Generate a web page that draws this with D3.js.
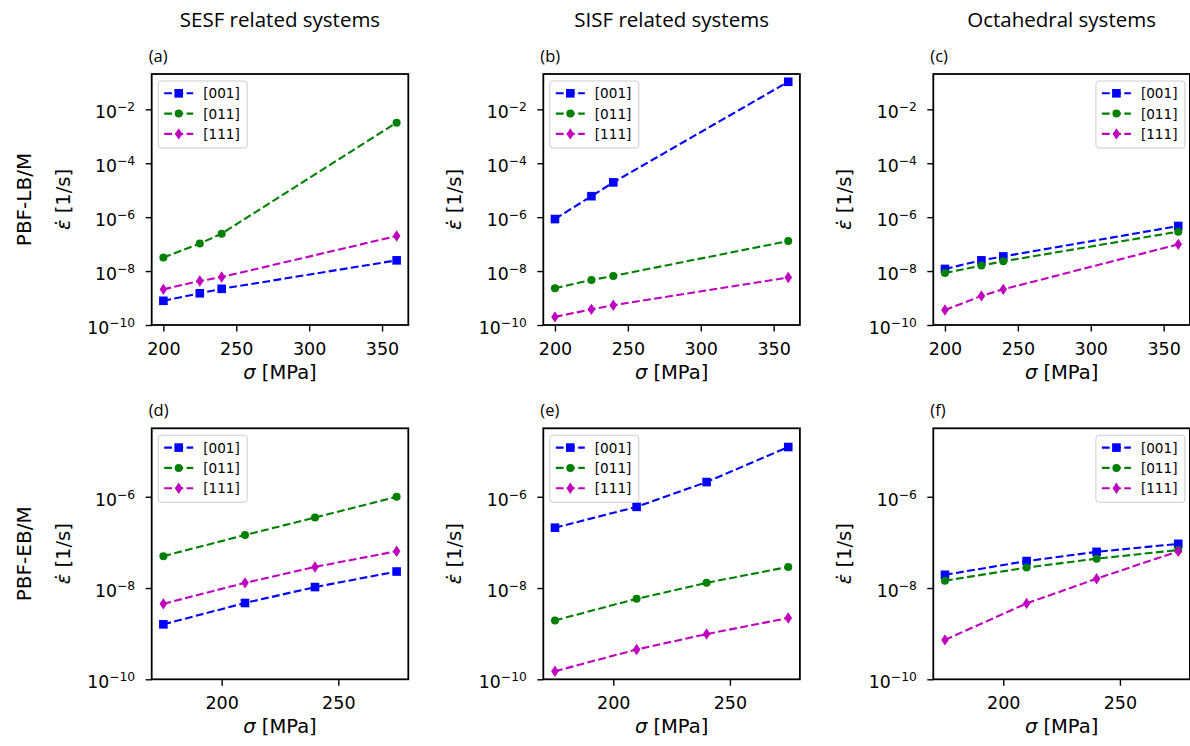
<!DOCTYPE html>
<html>
<head>
<meta charset="utf-8">
<script src="https://cdn.jsdelivr.net/npm/d3@7"></script>
<style>
  html,body{margin:0;padding:0;background:#fff;}
  svg{display:block;}
  .tick text{font-family:"DejaVu Sans",sans-serif;fill:#000;}
</style>
</head>
<body>
<svg id="fig" width="1190" height="746"></svg>
<script>
// ---- data ----
const stressLB = [200, 225, 240, 360];
const stressEB = [175, 210, 240, 275];
const orientations = ['[001]', '[011]', '[111]'];

const lbSesf = [[7.9e-10, 1.5e-9, 2.2e-9, 2.5e-8], [3.2e-8, 1.05e-7, 2.45e-7, 3.2e-3], [2.1e-9, 4.3e-9, 6.0e-9, 2.0e-7]];
const lbSisf = [[8.5e-7, 6.0e-6, 1.95e-5, 0.105], [2.3e-9, 4.7e-9, 6.6e-9, 1.3e-7], [2.0e-10, 3.8e-10, 5.4e-10, 5.8e-9]];
const lbOcta = [[1.2e-8, 2.5e-8, 3.5e-8, 4.7e-7], [8.5e-9, 1.6e-8, 2.3e-8, 2.9e-7], [3.6e-10, 1.2e-9, 2.1e-9, 9.8e-8]];
const ebSesf = [[1.6e-9, 4.7e-9, 1.05e-8, 2.3e-8], [5.0e-8, 1.45e-7, 3.5e-7, 1.0e-6], [4.5e-9, 1.3e-8, 2.9e-8, 6.4e-8]];
const ebSisf = [[2.1e-7, 6.0e-7, 2.1e-6, 1.23e-5], [1.95e-9, 5.8e-9, 1.3e-8, 2.9e-8], [1.5e-10, 4.5e-10, 9.8e-10, 2.2e-9]];
const ebOcta = [[1.95e-8, 3.9e-8, 6.2e-8, 9.3e-8], [1.45e-8, 2.8e-8, 4.4e-8, 6.8e-8], [7.3e-10, 4.6e-9, 1.6e-8, 6.4e-8]];

const columnTitles = ['SESF related systems', 'SISF related systems', 'Octahedral systems'];
const rowLabels = ['PBF-LB/M', 'PBF-EB/M'];
const panelLetters = ['(a)', '(b)', '(c)', '(d)', '(e)', '(f)'];

const xTicksLB = [200, 250, 300, 350];
const xTicksEB = [200, 250];
const yExpLB = [-10, -8, -6, -4, -2];
const yExpEB = [-10, -8, -6];

// ---- layout ----
const colX = [151.7, 543.3, 933.3];
const rowY = [74, 428.3];
const PW = 256.6, PH = 251;
const colors = ['#0000ff', '#008000', '#bf00bf'];
const markers = ['square', 'circle', 'thin_diamond'];

const rows = [
  {x: stressLB, xdom: [192, 368], ydom: [1e-10, Math.pow(10, -0.69)], xt: xTicksLB, ye: yExpLB,
   panels: [lbSesf, lbSisf, lbOcta]},
  {x: stressEB, xdom: [170, 280], ydom: [1e-10, Math.pow(10, -4.5)], xt: xTicksEB, ye: yExpEB,
   panels: [ebSesf, ebSisf, ebOcta]}
];

const svg = d3.select('#fig');

function drawMarker(g, kind, cx, cy, color) {
  if (kind === 'square') {
    g.append('rect').attr('x', cx - 4.3).attr('y', cy - 4.3).attr('width', 8.6).attr('height', 8.6).attr('fill', color);
  } else if (kind === 'circle') {
    g.append('circle').attr('cx', cx).attr('cy', cy).attr('r', 4).attr('fill', color);
  } else {
    g.append('path').attr('d', `M${cx},${cy - 5.7}L${cx + 3.8},${cy}L${cx},${cy + 5.7}L${cx - 3.8},${cy}Z`).attr('fill', color);
  }
}

// column titles
columnTitles.forEach((t, i) => {
  svg.append('text').attr('x', colX[i] + PW / 2).attr('y', 27).attr('text-anchor', 'middle')
    .attr('font-family', 'Open Sans,sans-serif').attr('font-size', 20.5).text(t);
});

rows.forEach((row, r) => {
  // row label
  const cy = rowY[r] + PH / 2;
  svg.append('text').attr('transform', `translate(31,${cy}) rotate(-90)`).attr('text-anchor', 'middle')
    .attr('font-family', 'DejaVu Sans,sans-serif').attr('font-size', 20).text(rowLabels[r]);

  row.panels.forEach((data, c) => {
    const x0 = colX[c], y0 = rowY[r];
    const xs = d3.scaleLinear().domain(row.xdom).range([x0, x0 + PW]);
    const ys = d3.scaleLog().domain(row.ydom).range([y0 + PH, y0]);
    const g = svg.append('g');

    // panel letter
    g.append('text').attr('x', x0 - 3).attr('y', y0 - 12).attr('font-family', 'Open Sans,sans-serif')
      .attr('font-size', 16.5).text(panelLetters[r * 3 + c]);

    // series
    const line = d3.line().x((d, i) => xs(row.x[i])).y(d => ys(d));
    data.forEach((vals, s) => {
      g.append('path').datum(vals).attr('d', line).attr('fill', 'none').attr('stroke', colors[s])
        .attr('stroke-width', 2.1).attr('stroke-dasharray', '7.8,3.4');
      vals.forEach((v, i) => drawMarker(g, markers[s], xs(row.x[i]), ys(v), colors[s]));
    });

    // x axis
    const xa = g.append('g').attr('transform', `translate(0,${y0 + PH})`)
      .call(d3.axisBottom(xs).tickValues(row.xt).tickSize(6.5).tickPadding(6).tickFormat(d3.format('d')));
    xa.select('.domain').remove();
    xa.selectAll('.tick line').attr('stroke-width', 1.4);
    xa.selectAll('.tick text').attr('font-size', 17.5).attr('dy', null).attr('y', 30);

    // y axis with 10^n labels
    const ya = g.append('g').attr('transform', `translate(${x0},0)`)
      .call(d3.axisLeft(ys).tickValues(row.ye.map(e => Math.pow(10, e))).tickSize(6).tickFormat(''));
    ya.select('.domain').remove();
    ya.selectAll('.tick line').attr('stroke-width', 1.4);
    ya.selectAll('.tick').each(function(d, i) {
      const t = d3.select(this).append('text').attr('x', -16.5).attr('y', 8.3)
        .attr('text-anchor', 'end').attr('font-size', 17.3).attr('fill', '#000');
      t.append('tspan').text('10');
      t.append('tspan').attr('font-size', 12.3).attr('dy', -6.8).text('\u2212' + Math.abs(row.ye[i]));
    });

    // axis labels
    const xl = g.append('text').attr('x', x0 + PW / 2).attr('y', y0 + PH + 54).attr('text-anchor', 'middle')
      .attr('font-family', 'DejaVu Sans,sans-serif').attr('font-size', 19.5);
    xl.append('tspan').attr('font-style', 'italic').text('\u03c3');
    xl.append('tspan').text(' [MPa]');
    const yl = g.append('text').attr('transform', `translate(${x0 - 82},${y0 + PH / 2}) rotate(-90)`)
      .attr('text-anchor', 'middle').attr('font-family', 'DejaVu Sans,sans-serif').attr('font-size', 19.5);
    yl.append('tspan').attr('font-style', 'italic').text('\u03b5\u0307');
    yl.append('tspan').text(' [1/s]');

    // spines
    g.append('rect').attr('x', x0).attr('y', y0).attr('width', PW).attr('height', PH)
      .attr('fill', 'none').attr('stroke', '#000').attr('stroke-width', 1.8);

    // legend
    const lw = 89, lh = 67;
    const lx = c === 2 ? x0 + PW - 5 - lw : x0 + 6.5;
    const ly = y0 + 7;
    const lg = g.append('g');
    lg.append('rect').attr('x', lx).attr('y', ly).attr('width', lw).attr('height', lh).attr('rx', 3)
      .attr('fill', '#fff').attr('fill-opacity', 0.8).attr('stroke', '#cccccc').attr('stroke-width', 1);
    orientations.forEach((name, s) => {
      const ry = ly + 12.3 + s * 20.3;
      lg.append('line').attr('x1', lx + 6).attr('x2', lx + 35).attr('y1', ry).attr('y2', ry)
        .attr('stroke', colors[s]).attr('stroke-width', 2.1).attr('stroke-dasharray', '7.8,3.4');
      drawMarker(lg, markers[s], lx + 20.5, ry, colors[s]);
      lg.append('text').attr('x', lx + 45).attr('y', ry + 5).attr('font-family', 'DejaVu Sans,sans-serif')
        .attr('font-size', 13.6).text(name);
    });
  });
});
</script>
</body>
</html>
